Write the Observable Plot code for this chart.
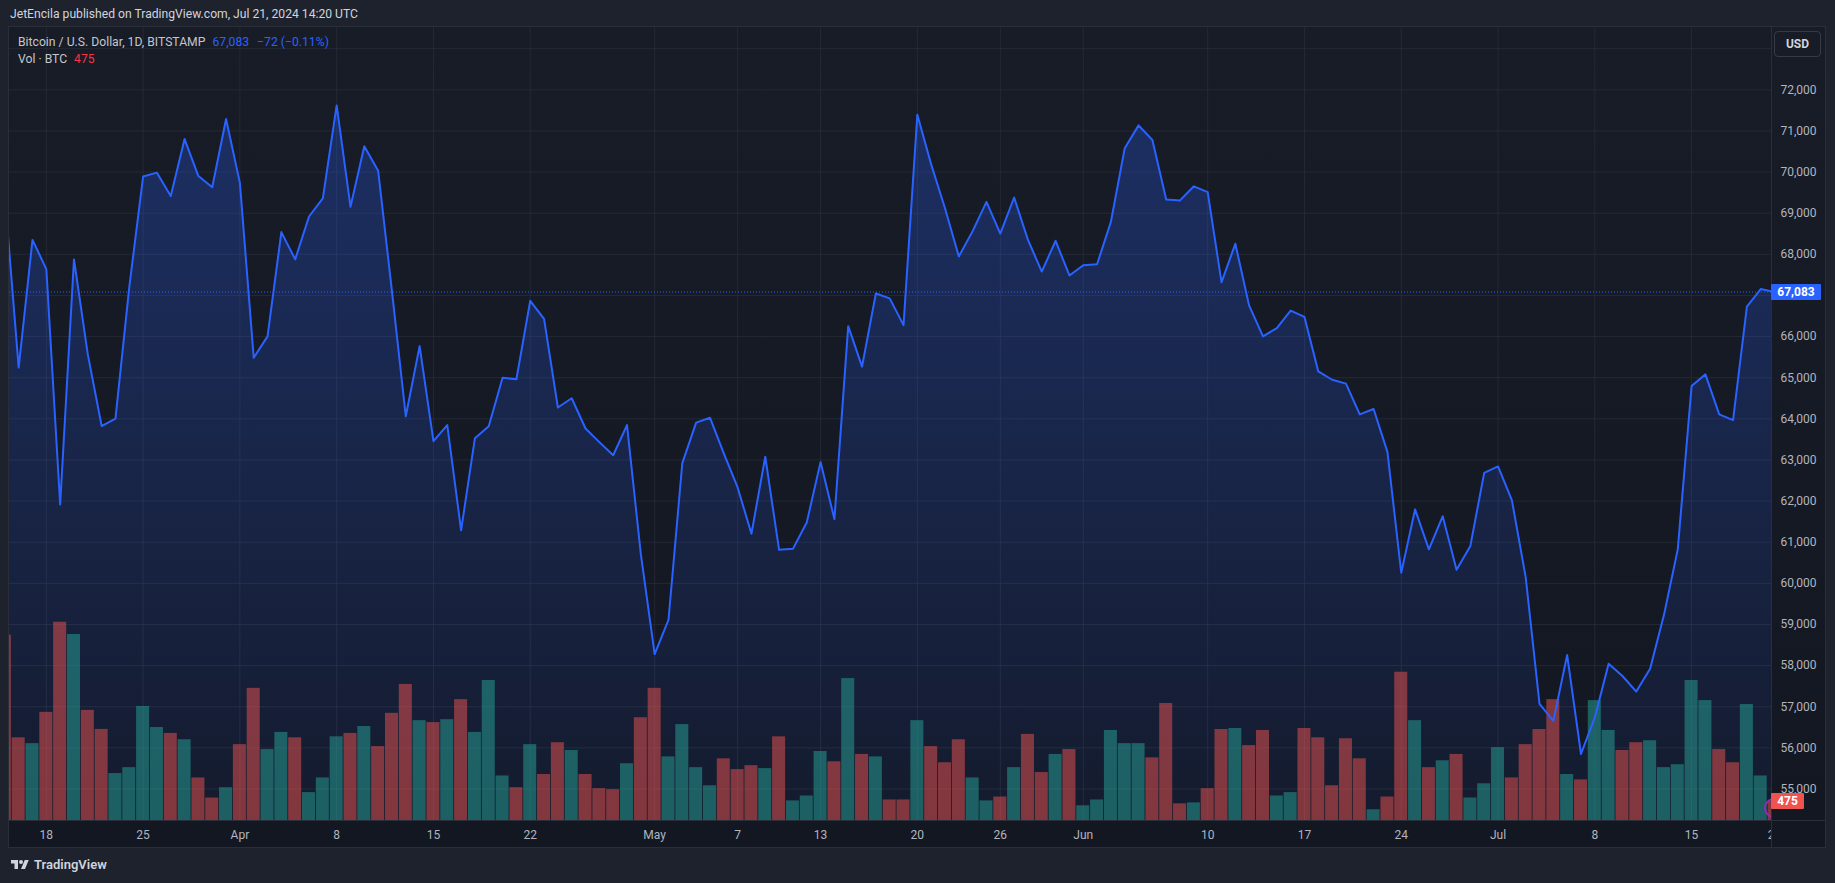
<!DOCTYPE html>
<html><head><meta charset="utf-8">
<script src="https://cdn.jsdelivr.net/npm/d3@7"></script>
<script src="https://cdn.jsdelivr.net/npm/@observablehq/plot@0.6"></script>
<style>
html,body{margin:0;padding:0;background:#1e222d;width:1835px;height:883px;overflow:hidden;font-family:Roboto,"Noto Sans",sans-serif;}
#root{position:relative;width:1835px;height:883px;}
.abs{position:absolute;}
#header{left:10px;top:5px;font-size:12.15px;line-height:18px;color:#d1d4dc;white-space:nowrap;}
#panel{left:8px;top:26px;width:1818px;height:822px;box-sizing:border-box;border:1px solid #2a2e39;background:linear-gradient(#181c27,#131722);}
.legend{left:18px;font-size:12.2px;line-height:16px;color:#c3c6ce;white-space:nowrap;}
.sep{background:#2a2e39;}
#usd{left:1774px;top:31px;width:47px;height:26px;box-sizing:border-box;border:1px solid #363a45;border-radius:4px;color:#d1d4dc;font-weight:700;font-size:12px;line-height:24px;text-align:center;}
.tag{height:16px;line-height:16px;color:#fff;font-weight:700;font-size:12px;text-align:center;border-radius:1px;}
#logo{left:10px;top:856px;display:flex;align-items:center;gap:4px;color:#d1d4dc;font-weight:600;font-size:13px;line-height:18px;}
</style></head><body><div id="root"></div>
<script>
// ---------- data ----------
const startDate = "2024-03-15";          // first daily bar (partly visible at the left edge)
const prevClose = 71400;                 // close of 2024-03-14, sets colour of the first volume bar
const closes = [
  69404, 65246, 68351, 67640, 61917, 67877, 65566, 63825, 64003, 67200, 69891, 69986, 69417, 70803, 69903, 69630, 71289, // Mar 15-31
  69737, 65484, 66005, 68540, 67877, 68920, 69358, 71621, 69156, 70626, 70033, 67100, 64062, 65768, 63457, 63849, 61289, 63529, 63820, 64998,
  64962, 66870, 66431, 64275, 64500, 63766, 63434, 63114, 63849, 60709, // Apr
  58280, 59109, 62924, 63908, 64027, 63160, 62332, 61206, 63078, 60815, 60839, 61479, 62948, 61562, 66254, 65270, 67047, 66929, 66278, 71396,
  70187, 69121, 67948, 68564, 69275, 68505, 69382, 68351, 67581, 68327, 67486, // May
  67735, 67759, 68789, 70578, 71135, 70780, 69334, 69311, 69654, 69512, 67320, 68256, 66751, 66005, 66206, 66633, 66479, 65152, 64950, 64856,
  64109, 64240, 63197, 60258, 61799, 60827, 61633, 60330, 60910, 62687, // Jun
  62842, 62024, 60152, 57072, 56657, 58256, 55851, 56740, 58043, 57747, 57368, 57925, 59228, 60827, 64796, 65081, 64109, 63967, 66728, 67155, 67083 // Jul 1-21
];
const volumes = [
  4620, 2060, 1915, 2695, 4940, 4635, 2745, 2270, 1170, 1317, 2842, 2317, 2170, 2012, 1060, 560, 817,
  1890, 3293, 1768, 2195, 2061, 695, 1061, 2085, 2170, 2341, 1841, 2671, 3390, 2488, 2439, 2512, 3012, 2195, 3488, 1110,
  817, 1890, 1146, 1939, 1744, 1146, 793, 768, 1415, 2561,
  3293, 1585, 2390, 1317, 866, 1537, 1268, 1366, 1293, 2085, 488, 610, 1720, 1463, 3537, 1646, 1585, 512, 512, 2488,
  1841, 1439, 2012, 1061, 488, 585, 1317, 2146, 1195, 1646, 1768,
  366, 512, 2244, 1915, 1915, 1561, 2915, 415, 439, 793, 2268, 2293, 1866, 2244, 610, 695, 2293, 2061, 866, 2037,
  1537, 268, 585, 3695, 2488, 1317, 1488, 1646, 561, 915,
  1817, 1061, 1890, 2268, 3012, 1146, 1012, 2988, 2244, 1744, 1939, 1988, 1317, 1390, 3488, 2988, 1768, 1439, 2890, 1110, 475
];
const lastClose = 67083;
const lastChange = -72;
const lastChangePct = -0.11;
const tickDates = ["2024-03-18","2024-03-25","2024-04-01","2024-04-08","2024-04-15","2024-04-22","2024-05-01","2024-05-07","2024-05-13",
  "2024-05-20","2024-05-26","2024-06-01","2024-06-10","2024-06-17","2024-06-24","2024-07-01","2024-07-08","2024-07-15","2024-07-21"];
const tickLabels = ["18","25","Apr","8","15","22","May","7","13","20","26","Jun","10","17","24","Jul","8","15","21"];
const priceGrid = [55000,56000,57000,58000,59000,60000,61000,62000,63000,64000,65000,66000,67000,68000,69000,70000,71000,72000,73000];
// 67,000 is hidden behind the last-price tag in the reference, 73,000 behind the USD button
const priceLabels = [55000,56000,57000,58000,59000,60000,61000,62000,63000,64000,65000,66000,68000,69000,70000,71000,72000];
const viewStart = new Date("2024-03-15T08:04:00Z");
const viewEnd = new Date("2024-07-20T18:43:00Z");
const yView = [54234, 73515];

// ---------- build ----------
const upColor = "#26a69a", downColor = "#ef5350", lineColor = "#2962ff", gridColor = "#2a2e39";
const series = closes.map((c, i) => ({
  date: d3.utcDay.offset(new Date(startDate), i),
  close: c,
  vol: volumes[i],
  up: c >= (i ? closes[i - 1] : prevClose)
}));
const tickDateObjs = tickDates.map(d => new Date(d));
const tickLabelMap = new Map(tickDateObjs.map((d, i) => [+d, tickLabels[i]]));
const root = document.getElementById("root");

function el(tag, cls, id, html) {
  const e = document.createElement(tag);
  if (cls) e.className = cls;
  if (id) e.id = id;
  if (html != null) e.innerHTML = html;
  root.appendChild(e);
  return e;
}
function place(node) {
  node.style.position = "absolute"; node.style.left = "0px"; node.style.top = "0px";
  root.appendChild(node);
  return node;
}

el("div", "abs", "header", "JetEncila published on TradingView.com, Jul 21, 2024 14:20 UTC");
el("div", "abs", "panel");

const frame = {width: 1771, height: 848, marginLeft: 9, marginRight: 0, marginTop: 27, marginBottom: 28};
const svgStyle = {background: "transparent", overflow: "hidden", fontFamily: "Roboto, sans-serif"};

const gradDefs = () => {
  const defs = d3.create("svg:defs");
  const g = defs.append("linearGradient").attr("id", "btcAreaGrad").attr("x1", 0).attr("x2", 0).attr("y1", 0).attr("y2", 1);
  g.append("stop").attr("offset", "0%").attr("stop-color", lineColor).attr("stop-opacity", 0.28);
  g.append("stop").attr("offset", "100%").attr("stop-color", lineColor).attr("stop-opacity", 0.05);
  return defs.node();
};

const mainPlot = Plot.plot({
  ...frame,
  style: svgStyle,
  x: {type: "utc", domain: [viewStart, viewEnd], axis: null},
  y: {domain: yView, axis: null},
  marks: [
    gradDefs,
    Plot.ruleX(tickDateObjs, {stroke: gridColor, strokeOpacity: 0.75, clip: true}),
    Plot.ruleY(priceGrid, {stroke: gridColor, strokeOpacity: 0.75, clip: true}),
    Plot.areaY(series, {x: "date", y1: yView[0], y2: "close", fill: "url(#btcAreaGrad)", clip: true}),
    Plot.axisX(tickDateObjs, {tickFormat: d => tickLabelMap.get(+d), tickSize: 0, tickPadding: 10, color: "#b2b5be", fontSize: 12, label: null})
  ]
});
place(mainPlot);

const volPlot = Plot.plot({
  ...frame,
  style: svgStyle,
  x: {type: "utc", domain: [viewStart, viewEnd], axis: null},
  y: {domain: [0, d3.max(volumes) * 4], axis: null},
  marks: [
    Plot.rectY(series, {
      x1: d => d3.utcHour.offset(d.date, -12), x2: d => d3.utcHour.offset(d.date, 12),
      y1: 0, y2: "vol", fill: d => d.up ? upColor : downColor, fillOpacity: 0.5,
      insetLeft: 0.4, insetRight: 0.4, clip: true
    })
  ]
});
place(volPlot);

const linePlot = Plot.plot({
  ...frame,
  style: svgStyle,
  x: {type: "utc", domain: [viewStart, viewEnd], axis: null},
  y: {domain: yView, axis: null},
  marks: [
    Plot.ruleY([lastClose], {stroke: lineColor, strokeWidth: 1, strokeDasharray: "1,2"}),
    Plot.line(series, {x: "date", y: "close", stroke: lineColor, strokeWidth: 2, clip: true})
  ]
});
place(linePlot);

// separators
const sv = el("div", "abs sep"); Object.assign(sv.style, {left: "1771px", top: "27px", width: "1px", height: "820px"});
const sh = el("div", "abs sep"); Object.assign(sh.style, {left: "9px", top: "820px", width: "1816px", height: "1px"});

// right price axis
const axisPlot = Plot.plot({
  width: 60, height: 848, marginLeft: 0, marginRight: 59, marginTop: 27, marginBottom: 28,
  style: {background: "transparent", overflow: "visible", fontFamily: "Roboto, sans-serif"},
  y: {domain: yView, axis: null},
  marks: [Plot.axisY(priceLabels, {anchor: "right", tickSize: 0, tickPadding: 8, tickFormat: d3.format(","), color: "#b2b5be", fontSize: 12, label: null})]
});
place(axisPlot).style.left = "1771px";

// legend
const fmt = d3.format(",");
const l1 = el("div", "abs legend", null,
  `Bitcoin / U.S. Dollar, 1D, BITSTAMP<span style="color:${lineColor};margin-left:7px">${fmt(lastClose)}</span><span style="color:${lineColor};margin-left:8px">${lastChange < 0 ? "\u2212" : "+"}${Math.abs(lastChange)} (${lastChangePct < 0 ? "\u2212" : "+"}${Math.abs(lastChangePct).toFixed(2)}%)</span>`);
l1.style.top = "34px";
const l2 = el("div", "abs legend", null, `Vol \u00b7 BTC<span style="color:#f23645;margin-left:7px">${fmt(volumes[volumes.length - 1])}</span>`);
l2.style.top = "51px";

el("div", "abs", "usd", "USD");

// purple marker (clipped at the pane edge)
const clipBox = el("div", "abs");
Object.assign(clipBox.style, {left: "1755px", top: "795px", width: "16px", height: "26px", overflow: "hidden"});
const ring = document.createElement("div");
Object.assign(ring.style, {position: "absolute", left: "9px", top: "3px", width: "20px", height: "20px", boxSizing: "border-box", border: "2px solid #9c27b0", borderRadius: "50%"});
clipBox.appendChild(ring);

// value tags on the price axis
function scalePx(plot, name, v) {
  const s = plot.scale(name);
  return s.apply ? s.apply(v) : d3.scaleLinear(s.domain, s.range)(v);
}
const pTag = el("div", "abs tag", null, fmt(lastClose));
Object.assign(pTag.style, {left: "1771px", width: "50px", background: lineColor, top: (scalePx(linePlot, "y", lastClose) - 8) + "px"});
const vTag = el("div", "abs tag", null, fmt(volumes[volumes.length - 1]));
Object.assign(vTag.style, {left: "1771px", width: "33px", background: downColor, top: (scalePx(volPlot, "y", volumes[volumes.length - 1]) - 8) + "px"});

// footer logo
el("div", "abs", "logo", `<svg width="20" height="14" viewBox="0 0 36 28"><path fill="#d1d4dc" d="M14 22H7V11H0V4h14v18zM28 22h-8l7.5-18h8L28 22z"/><circle cx="20" cy="8" r="4" fill="#d1d4dc"/></svg><span>TradingView</span>`);
</script>
</body></html>
